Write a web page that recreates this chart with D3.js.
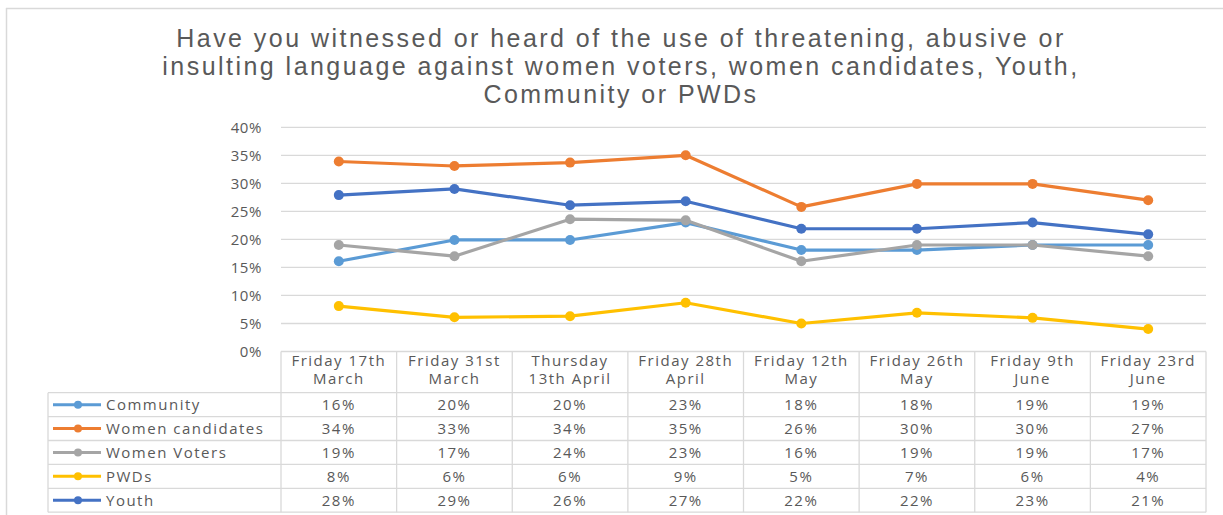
<!DOCTYPE html>
<html>
<head>
<meta charset="utf-8">
<script src="https://cdn.jsdelivr.net/npm/d3@7"></script>
<style>
  body { margin: 0; background: #fff; }
  svg { display: block; }
</style>
</head>
<body>
<div id="chart"></div>
<script>
// categories (two lines each, as in the data table header)
const dates = [
  ['Friday 17th', 'March'],
  ['Friday 31st', 'March'],
  ['Thursday', '13th April'],
  ['Friday 28th', 'April'],
  ['Friday 12th', 'May'],
  ['Friday 26th', 'May'],
  ['Friday 9th', 'June'],
  ['Friday 23rd', 'June']
]
const seriesNames = ['Community', 'Women candidates', 'Women Voters', 'PWDs', 'Youth']
// plotted values
const community = [16.1, 19.9, 19.9, 23.0, 18.1, 18.1, 19.0, 19.0]
const womenCandidates = [33.9, 33.1, 33.7, 35.0, 25.8, 29.9, 29.9, 27.0]
const womenVoters = [19.0, 17.0, 23.6, 23.4, 16.1, 19.0, 19.0, 17.0]
const pwds = [8.1, 6.1, 6.3, 8.7, 5.0, 6.9, 6.0, 4.0]
const youth = [27.9, 29.0, 26.1, 26.8, 21.9, 21.9, 23.0, 20.9]
const yTicks = [0, 5, 10, 15, 20, 25, 30, 35, 40]
const titleLines = [
  'Have you witnessed or heard of the use of threatening, abusive or',
  'insulting language against women voters, women candidates, Youth,',
  'Community or PWDs'
]

const allValues = [community, womenCandidates, womenVoters, pwds, youth]
const colors = ['#5B9BD5', '#ED7D31', '#A5A5A5', '#FFC000', '#4472C4']

const width = 1223
const height = 515
const plotLeft = 281
const plotRight = 1206
const textColor = '#595959'
const font = "'Open Sans', 'Noto Sans', sans-serif"

const svg = d3.select('#chart')
  .append('svg')
  .attr('width', width)
  .attr('height', height)
  .style('font-family', font)

// chart area border (top and left edges visible)
svg.append('line')
  .attr('x1', 6).attr('x2', width).attr('y1', 8.5).attr('y2', 8.5)
  .attr('stroke', '#d9d9d9').attr('stroke-width', 1.5)
svg.append('line')
  .attr('x1', 6.5).attr('x2', 6.5).attr('y1', 8).attr('y2', height)
  .attr('stroke', '#d9d9d9').attr('stroke-width', 1.5)

// title - spread letters so the first line is as wide as in the original
const title = svg.append('g')
  .style('font-family', "'Liberation Sans', Arial, sans-serif")
  .style('font-size', '25px')
title.selectAll('text')
  .data(titleLines)
  .enter()
  .append('text')
  .attr('x', 621)
  .attr('y', (d, i) => 47 + i * 28)
  .attr('text-anchor', 'middle')
  .attr('fill', textColor)
  .text(d => d)
const firstLen = title.select('text').node().getComputedTextLength()
const spacing = Math.max(0, (887 - firstLen) / (titleLines[0].length - 1))
title.selectAll('text').style('letter-spacing', spacing + 'px')

const x = d3.scaleBand()
  .domain(d3.range(dates.length))
  .range([plotLeft, plotRight])

const y = d3.scaleLinear()
  .domain([0, 40])
  .range([351.5, 127.3])

// gridlines
svg.append('g')
  .selectAll('line')
  .data(yTicks.filter(t => t > 0))
  .enter()
  .append('line')
  .attr('x1', plotLeft)
  .attr('x2', plotRight)
  .attr('y1', d => y(d))
  .attr('y2', d => y(d))
  .attr('stroke', '#d9d9d9')
  .attr('stroke-width', 1.3)

// y axis labels
svg.append('g')
  .selectAll('text')
  .data(yTicks)
  .enter()
  .append('text')
  .attr('x', 262)
  .attr('y', d => y(d))
  .attr('dy', '0.35em')
  .attr('text-anchor', 'end')
  .attr('fill', textColor)
  .style('font-size', '15px')
  .style('letter-spacing', '0.6px')
  .text(d => d + '%')

// lines + markers
const line = d3.line()
  .x((d, i) => x(i) + x.bandwidth() / 2)
  .y(d => y(d))

allValues.forEach(function (vals, s) {
  svg.append('path')
    .datum(vals)
    .attr('d', line)
    .attr('fill', 'none')
    .attr('stroke', colors[s])
    .attr('stroke-width', 3.2)
    .attr('stroke-linejoin', 'round')
  svg.append('g')
    .selectAll('circle')
    .data(vals)
    .enter()
    .append('circle')
    .attr('cx', (d, i) => x(i) + x.bandwidth() / 2)
    .attr('cy', d => y(d))
    .attr('r', 5)
    .attr('fill', colors[s])
})

// data table
const tableTop = 351.5
const headerBottom = 392.7
const rowH = 23.9
const tableLeft = 48
const tableBottom = headerBottom + rowH * seriesNames.length
const gridColor = '#d9d9d9'
const table = svg.append('g')
  .style('font-size', '15px')
  .style('letter-spacing', '1.5px')

// horizontal rules
table.append('line')
  .attr('x1', plotLeft).attr('x2', plotRight)
  .attr('y1', tableTop).attr('y2', tableTop)
  .attr('stroke', gridColor).attr('stroke-width', 1.3)
table.selectAll('line.row')
  .data(d3.range(seriesNames.length + 1))
  .enter()
  .append('line')
  .attr('class', 'row')
  .attr('x1', tableLeft).attr('x2', plotRight)
  .attr('y1', d => headerBottom + d * rowH)
  .attr('y2', d => headerBottom + d * rowH)
  .attr('stroke', gridColor).attr('stroke-width', 1.3)

// vertical rules
table.selectAll('line.col')
  .data(d3.range(dates.length + 1))
  .enter()
  .append('line')
  .attr('class', 'col')
  .attr('x1', d => d < dates.length ? x(d) : plotRight)
  .attr('x2', d => d < dates.length ? x(d) : plotRight)
  .attr('y1', tableTop)
  .attr('y2', tableBottom)
  .attr('stroke', gridColor).attr('stroke-width', 1.3)
table.append('line')
  .attr('x1', tableLeft).attr('x2', tableLeft)
  .attr('y1', headerBottom).attr('y2', tableBottom)
  .attr('stroke', gridColor).attr('stroke-width', 1.3)

// header labels
dates.forEach(function (lines, i) {
  table.append('text')
    .attr('x', x(i) + x.bandwidth() / 2)
    .attr('text-anchor', 'middle')
    .attr('fill', textColor)
    .selectAll('tspan')
    .data(lines)
    .enter()
    .append('tspan')
    .attr('x', x(i) + x.bandwidth() / 2)
    .attr('y', (d, k) => 366 + k * 18)
    .text(d => d)
})

// rows: legend key + values
seriesNames.forEach(function (name, s) {
  const cy = headerBottom + s * rowH + rowH / 2
  table.append('line')
    .attr('x1', 53).attr('x2', 101)
    .attr('y1', cy).attr('y2', cy)
    .attr('stroke', colors[s]).attr('stroke-width', 3)
  table.append('circle')
    .attr('cx', 78).attr('cy', cy).attr('r', 4)
    .attr('fill', colors[s])
  table.append('text')
    .attr('x', 106)
    .attr('y', cy)
    .attr('dy', '0.35em')
    .attr('fill', textColor)
    .text(name)
  table.append('g')
    .selectAll('text')
    .data(allValues[s])
    .enter()
    .append('text')
    .attr('x', (d, i) => x(i) + x.bandwidth() / 2)
    .attr('y', cy)
    .attr('dy', '0.35em')
    .attr('text-anchor', 'middle')
    .attr('fill', textColor)
    .text(d => Math.round(d) + '%')
})
</script>
</body>
</html>
